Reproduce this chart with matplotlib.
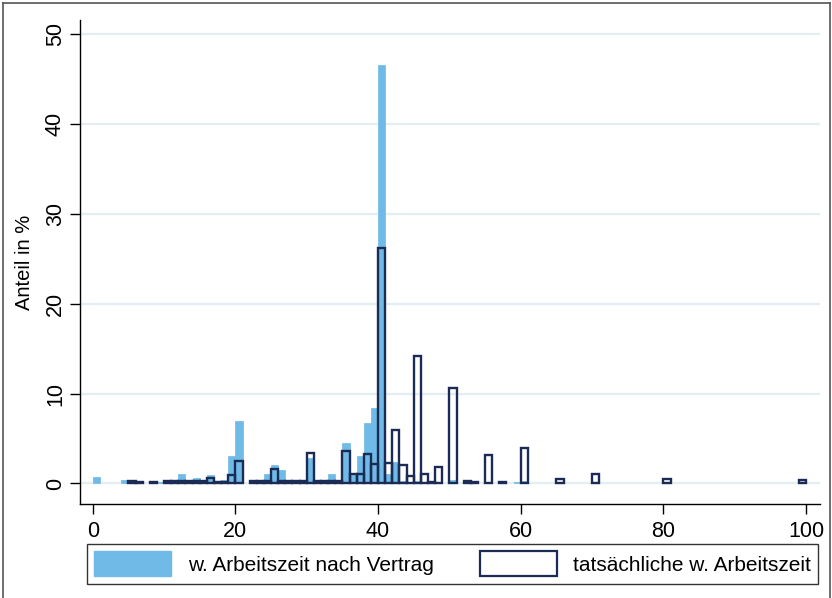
import matplotlib
matplotlib.use("Agg")
import matplotlib.pyplot as plt
from matplotlib.patches import Patch
from matplotlib.lines import Line2D

# Wochenstunden (Klassen je 1 Stunde) und Anteile in %
stunden_vertrag = [0, 4, 5, 6, 8, 9, 10, 11, 12, 13, 14, 15, 16, 17, 18, 19, 20,
                   22, 23, 24, 25, 26, 27, 28, 29, 30, 31, 32, 33, 34, 35, 36, 37,
                   38, 39, 40, 41, 42, 43, 44, 45, 46, 48, 50, 52, 55, 59, 60]
anteil_vertrag = [0.7, 0.4, 0.3, 0.15, 0.2, 0.2, 0.3, 0.3, 1.1, 0.3, 0.6, 0.3, 0.9,
                  0.2, 0.4, 3.1, 6.9, 0.4, 0.4, 1.0, 2.1, 1.5, 0.3, 0.3, 0.3, 2.8,
                  0.3, 0.3, 1.1, 0.3, 4.5, 0.9, 3.1, 6.7, 8.4, 46.6, 1.1, 2.4, 0.3,
                  0.2, 0.3, 0.1, 0.2, 0.4, 0.1, 0.1, 0.2, 0.3]

stunden_tats = [5, 6, 8, 10, 11, 12, 13, 14, 15, 16, 17, 18, 19, 20, 22, 23, 24,
                25, 26, 27, 28, 29, 30, 31, 32, 33, 34, 35, 36, 37, 38, 39, 40,
                41, 42, 43, 44, 45, 46, 47, 48, 50, 52, 53, 55, 57, 60, 65, 70,
                80, 99]
anteil_tats = [0.3, 0.15, 0.2, 0.3, 0.3, 0.3, 0.3, 0.3, 0.3, 0.6, 0.2, 0.2, 0.9,
               2.5, 0.3, 0.3, 0.3, 1.6, 0.3, 0.3, 0.3, 0.3, 3.4, 0.3, 0.3, 0.3,
               0.3, 3.6, 1.1, 1.1, 3.3, 2.2, 26.2, 2.3, 6.0, 2.0, 0.8, 14.2, 1.1,
               0.2, 1.8, 10.6, 0.3, 0.15, 3.2, 0.15, 3.9, 0.55, 1.0, 0.5, 0.35]

x_ticks = [0, 20, 40, 60, 80, 100]
y_ticks = [0, 10, 20, 30, 40, 50]

hellblau = "#6fbae6"
dunkel = "#1b2b55"
gitter = "#e3eef2"

plt.rcParams["font.family"] = ["Liberation Sans", "DejaVu Sans"]

fig = plt.figure(figsize=(8.32, 5.98), dpi=100)
ax = fig.add_axes([0.096, 0.157, 0.890, 0.810])

ax.bar(stunden_vertrag, anteil_vertrag, width=1, align="edge",
       color=hellblau, edgecolor=hellblau, linewidth=0.5, zorder=2)
ax.bar(stunden_tats, anteil_tats, width=1, align="edge",
       fill=False, edgecolor=dunkel, linewidth=1.7, zorder=3)

ax.set_xlim(-1.8, 102)
ax.set_ylim(-2.3, 51.6)
ax.set_xticks(x_ticks)
ax.set_yticks(y_ticks)
ax.set_yticklabels([str(t) for t in y_ticks], rotation=90, va="center")
ax.tick_params(labelsize=15.5, length=7, width=1, color="black")
ax.tick_params(axis="y", pad=3)
ax.tick_params(axis="x", pad=5)
ax.yaxis.grid(True, color=gitter, linewidth=1.6, zorder=0)
ax.set_axisbelow(True)
for s in ["top", "right"]:
    ax.spines[s].set_visible(False)
ax.spines["left"].set_linewidth(1)
ax.spines["bottom"].set_linewidth(1)
ax.set_ylabel("Anteil in %", fontsize=14.5, labelpad=8)

handles = [Patch(facecolor=hellblau, edgecolor=hellblau),
           Patch(facecolor="white", edgecolor=dunkel, linewidth=1.6)]
leg = fig.legend(handles, ["w. Arbeitszeit nach Vertrag", "tatsächliche w. Arbeitszeit"],
                 loc="lower center", bbox_to_anchor=(0.544, 0.024),
                 ncol=2, fontsize=15, frameon=True, fancybox=False,
                 handlelength=3.7, handleheight=1.5, handletextpad=0.8,
                 borderpad=0.35, columnspacing=2.2, borderaxespad=0)
leg.get_frame().set_edgecolor("black")
leg.get_frame().set_linewidth(1)

# Rahmen um die Grafik
for xs, ys in [([0.004, 0.004], [0.0, 0.995]), ([0.004, 0.997], [0.995, 0.995]),
               ([0.997, 0.997], [0.0, 0.995])]:
    fig.add_artist(Line2D(xs, ys, color="#555555", linewidth=1.2,
                          transform=fig.transFigure))

fig.savefig("out.png", dpi=100)
